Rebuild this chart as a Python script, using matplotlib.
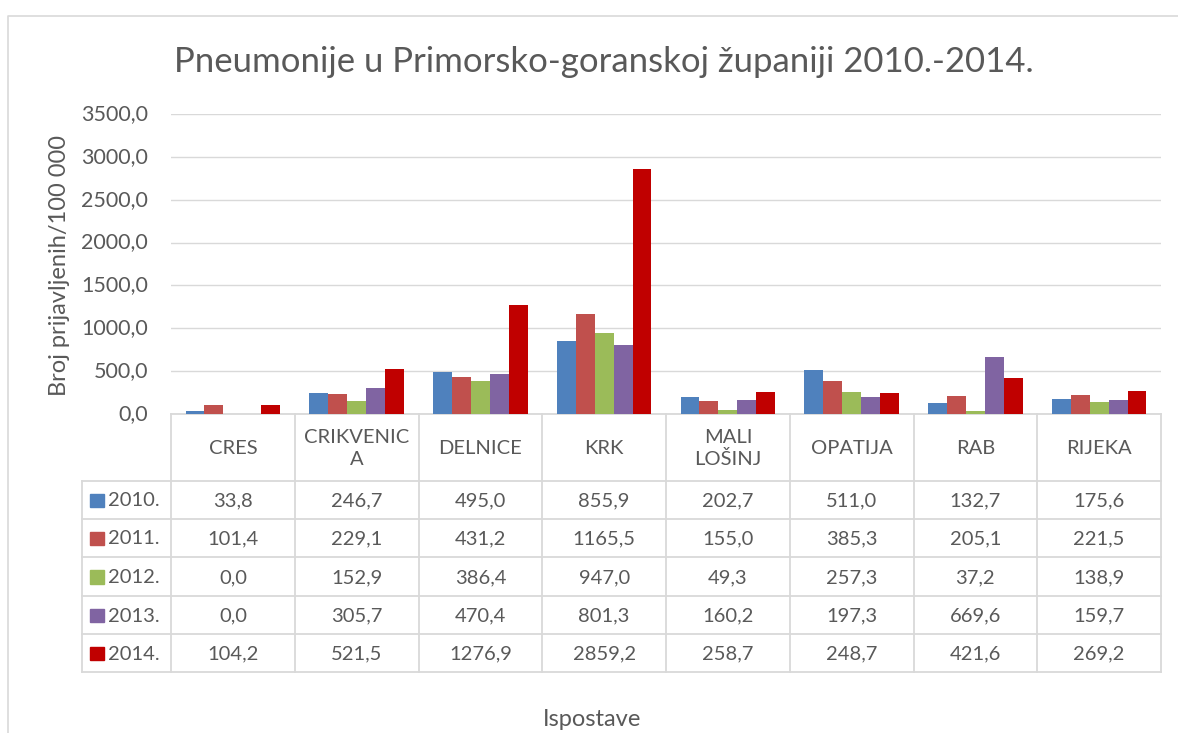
import numpy as np
import matplotlib
matplotlib.use("Agg")
import matplotlib.pyplot as plt
import matplotlib.transforms as mtransforms
from matplotlib.patches import Rectangle

plt.rcParams['font.family'] = ['Lato', 'DejaVu Sans']

# data
categories = ["CRES", "CRIKVENICA", "DELNICE", "KRK", "MALI LOŠINJ", "OPATIJA", "RAB", "RIJEKA"]
header_labels = ["CRES", "CRIKVENIC\nA", "DELNICE", "KRK", "MALI\nLOŠINJ", "OPATIJA", "RAB", "RIJEKA"]
years = ["2010.", "2011.", "2012.", "2013.", "2014."]
v2010 = [33.8, 246.7, 495.0, 855.9, 202.7, 511.0, 132.7, 175.6]
v2011 = [101.4, 229.1, 431.2, 1165.5, 155.0, 385.3, 205.1, 221.5]
v2012 = [0.0, 152.9, 386.4, 947.0, 49.3, 257.3, 37.2, 138.9]
v2013 = [0.0, 305.7, 470.4, 801.3, 160.2, 197.3, 669.6, 159.7]
v2014 = [104.2, 521.5, 1276.9, 2859.2, 258.7, 248.7, 421.6, 269.2]
series = [v2010, v2011, v2012, v2013, v2014]
colors = ["#4F81BD", "#C0504D", "#9BBB59", "#8064A2", "#C00000"]
yticks = [0, 500, 1000, 1500, 2000, 2500, 3000, 3500]

txt = "#595959"
grid = "#D9D9D9"

W, H = 1178, 733
fig = plt.figure(figsize=(W / 100, H / 100), dpi=100)

# background axes in pixel coords for table / frame
bg = fig.add_axes([0, 0, 1, 1])
bg.set_xlim(0, W)
bg.set_ylim(H, 0)
bg.axis("off")

# chart frame (left and top edges visible)
bg.plot([8, 8, W + 5], [H + 5, 16, 16], color=grid, lw=1.2)

# plot area
x0, x1, ytop, ybot = 171, 1161, 114, 414
ax = fig.add_axes([x0 / W, (H - ybot) / H, (x1 - x0) / W, (ybot - ytop) / H])
n = len(categories)
x = np.arange(n)
bw = 0.153
for i, (vals, c) in enumerate(zip(series, colors)):
    ax.bar(x + (i - 2) * bw, vals, width=bw, color=c, zorder=3)
ax.set_xlim(-0.5, n - 0.5)
ax.set_ylim(0, 3500)
ax.set_yticks(yticks)
ax.set_yticklabels([])
ax.set_xticks([])
ax.tick_params(axis="y", length=0)
ax.grid(axis="y", color=grid, lw=1.0, zorder=0)
for s in ax.spines.values():
    s.set_visible(False)
ax.set_facecolor("none")

# y tick labels, right aligned at x=148 px
trans = mtransforms.blended_transform_factory(ax.transAxes, ax.transData)
for t in yticks:
    ax.text((148 - x0) / (x1 - x0), t, f"{t:.1f}".replace(".", ","), transform=trans,
            fontsize=15.5, color=txt, ha="right", va="center", clip_on=False)

bg.text(60, 265, "Broj prijavljenih/100 000", fontsize=17, color=txt,
        rotation=90, ha="center", va="center")

# title
bg.text(604, 62, "Pneumonije u Primorsko-goranskoj županiji 2010.-2014.",
        fontsize=25, color=txt, ha="center", va="center")

# data table
colw = (x1 - x0) / n
hdr_bot = 481
row_ys = [481, 519, 557, 596, 634, 672]
leg_x = 82
lw = 1.3
fs = 14.5
bg.plot([x0, x1], [ybot, ybot], color=grid, lw=lw)
for k in range(n + 1):
    xx = x0 + k * colw
    bg.plot([xx, xx], [ybot, row_ys[-1]], color=grid, lw=lw)
for k, lab in enumerate(header_labels):
    bg.text(x0 + (k + 0.5) * colw, (ybot + hdr_bot) / 2 + 1, lab, fontsize=fs, color=txt,
            ha="center", va="center", linespacing=1.3)
for yy in row_ys:
    bg.plot([leg_x, x1], [yy, yy], color=grid, lw=lw)
bg.plot([leg_x, leg_x], [row_ys[0], row_ys[-1]], color=grid, lw=lw)
for r, (yr, vals, c) in enumerate(zip(years, series, colors)):
    yc = (row_ys[r] + row_ys[r + 1]) / 2
    bg.add_patch(Rectangle((90, yc - 6.5), 13.5, 13.5, color=c))
    bg.text(108, yc + 1, yr, fontsize=fs, color=txt, ha="left", va="center")
    for k, v in enumerate(vals):
        bg.text(x0 + (k + 0.5) * colw, yc + 1, f"{v:.1f}".replace(".", ","),
                fontsize=fs, color=txt, ha="center", va="center")

bg.text(592, 719, "Ispostave", fontsize=17, color=txt, ha="center", va="center")

fig.savefig("out.png", dpi=100)
